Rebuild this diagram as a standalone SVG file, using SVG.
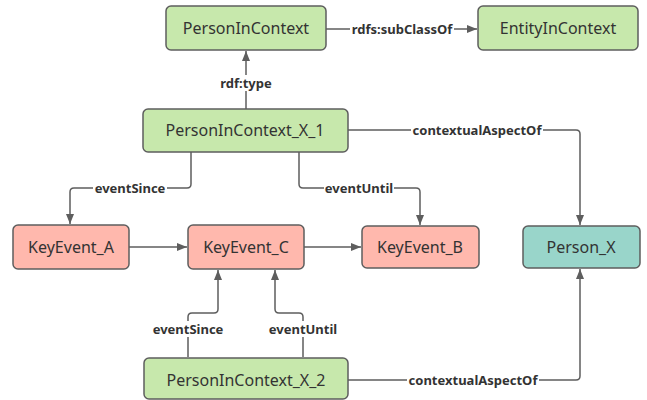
<svg xmlns="http://www.w3.org/2000/svg" width="647" height="400" viewBox="0 0 647 400">
<defs>
<marker id="arr" viewBox="0 0 10 10" refX="10" refY="5" markerWidth="10" markerHeight="10" markerUnits="userSpaceOnUse" orient="auto">
<path d="M0,1 L10,5 L0,9 z" fill="#5e5e5e"/>
</marker>
<style>
.n rect{stroke:#5e5e5e;stroke-width:1.5}
.g rect{fill:#c7e8ac}
.r rect{fill:#ffb8ad}
.t rect{fill:#99d5ca}
.n text{font-family:"Noto Sans",sans-serif;font-size:16px;fill:#333;text-anchor:middle;dominant-baseline:central}
.c path{fill:none;stroke:#5e5e5e;stroke-width:1.5;marker-end:url(#arr)}
.lb{fill:#fff}
.c text{font-family:"Noto Sans",sans-serif;font-size:13px;font-weight:bold;fill:#333;text-anchor:middle;dominant-baseline:central}
</style>
</defs>
<rect width="647" height="400" fill="#fff"/>
<g class="c" id="connectors">
<path d="M326,29 H477"/>
<path d="M246,109 V51"/>
<path d="M191,152 V184 Q191,188 187,188 H74 Q70,188 70,192 V224"/>
<path d="M299,152 V184 Q299,188 303,188 H416 Q420,188 420,192 V225"/>
<path d="M348,130 H576 Q580,130 580,134 V225"/>
<path d="M129,247 H187"/>
<path d="M304,247 H361"/>
<path d="M188,357 V317 Q188,313 192,313 H214 Q218,313 218,309 V270"/>
<path d="M303,357 V317 Q303,313 299,313 H279 Q275,313 275,309 V270"/>
<path d="M348,380 H576 Q580,380 580,376 V269"/>
<rect class="lb" x="350" y="21" width="104" height="16"/>
<text x="402" y="29">rdfs:subClassOf</text>
<rect class="lb" x="218" y="75" width="56" height="16"/>
<text x="246" y="83">rdf:type</text>
<rect class="lb" x="93" y="180" width="74" height="16"/>
<text x="130" y="188">eventSince</text>
<rect class="lb" x="324" y="180" width="70" height="16"/>
<text x="359" y="188">eventUntil</text>
<rect class="lb" x="411" y="122" width="132" height="16"/>
<text x="477" y="130">contextualAspectOf</text>
<rect class="lb" x="151" y="321" width="74" height="16"/>
<text x="188" y="329">eventSince</text>
<rect class="lb" x="268" y="321" width="70" height="16"/>
<text x="303" y="329">eventUntil</text>
<rect class="lb" x="407" y="372" width="132" height="16"/>
<text x="473" y="380">contextualAspectOf</text>
</g>
<g class="n g" id="PersonInContext"><rect x="166" y="6" width="160" height="44" rx="5"/><text x="246" y="28">PersonInContext</text></g>
<g class="n g" id="EntityInContext"><rect x="478" y="6" width="160" height="44" rx="5"/><text x="558" y="28">EntityInContext</text></g>
<g class="n g" id="PersonInContext_X_1"><rect x="143" y="109" width="205" height="43" rx="5"/><text x="245" y="130">PersonInContext_X_1</text></g>
<g class="n r" id="KeyEvent_A"><rect x="13" y="225" width="116" height="44" rx="5"/><text x="71" y="247">KeyEvent_A</text></g>
<g class="n r" id="KeyEvent_C"><rect x="188" y="225" width="116" height="44" rx="5"/><text x="246" y="247">KeyEvent_C</text></g>
<g class="n r" id="KeyEvent_B"><rect x="362" y="226" width="117" height="42" rx="5"/><text x="420" y="247">KeyEvent_B</text></g>
<g class="n t" id="Person_X"><rect x="523" y="226" width="117" height="42" rx="5"/><text x="581" y="247">Person_X</text></g>
<g class="n g" id="PersonInContext_X_2"><rect x="144" y="358" width="204" height="41" rx="5"/><text x="246" y="380">PersonInContext_X_2</text></g>
</svg>
